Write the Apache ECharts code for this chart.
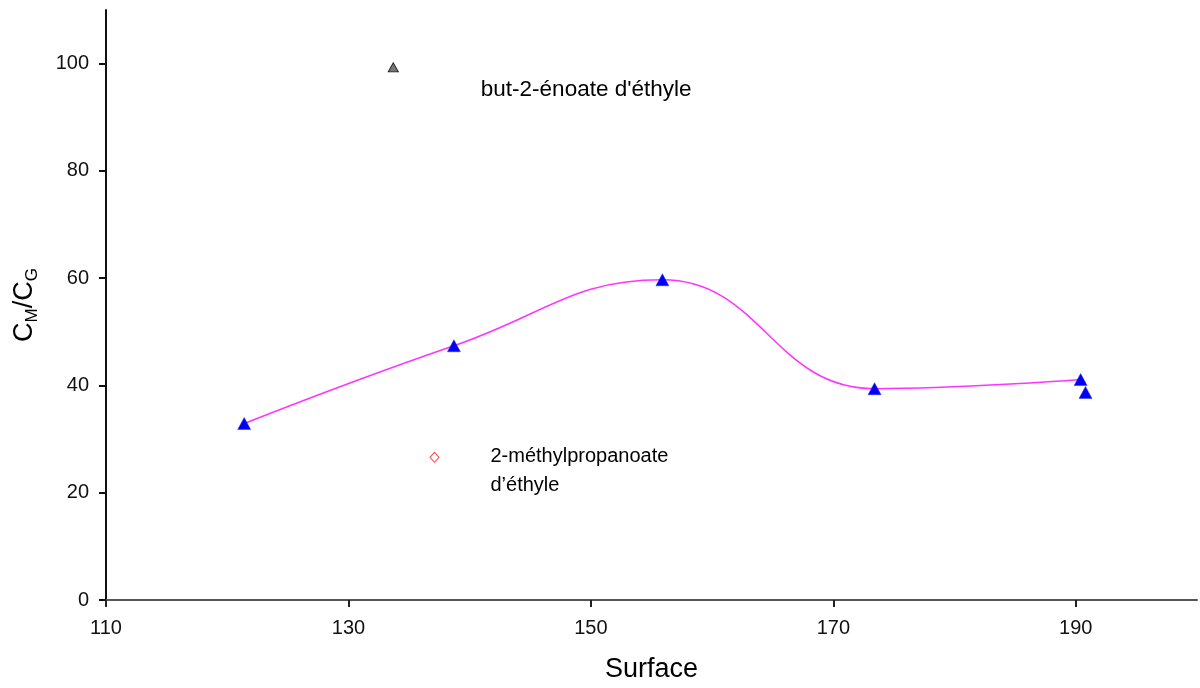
<!DOCTYPE html>
<html>
<head>
<meta charset="utf-8">
<script src="https://cdn.jsdelivr.net/npm/echarts@6/dist/echarts.min.js"></script>
<style>html,body{margin:0;padding:0;background:#fff}#c{width:1200px;height:688px}</style>
</head>
<body>
<div id="c"></div>
<script>
// Data
const surfaceBlue = [121.4, 138.7, 155.9, 173.4, 190.4, 190.8];
const ratioBlue   = [32.9, 47.4, 59.7, 39.4, 41.1, 38.7];
const curveSurface = [121.4, 138.7, 155.9, 173.4, 190.4];
const curveRatio   = [32.9, 47.4, 59.7, 39.4, 41.1];
const butenoate = [[133.7, 99.3]];
const methylpropanoate = [[137.1, 26.6]];
const butenoateName = "but-2-énoate d'éthyle";
const methylName = "2-méthylpropanoate\nd’éthyle";
const xTicks = {min: 110, max: 200, interval: 20};
const yTicks = {min: 0, max: 110, interval: 20};

const chart = echarts.init(document.getElementById('c'));
const font = 'Liberation Sans, Arial, sans-serif';
chart.setOption({
  backgroundColor: '#fff',
  animation: false,
  grid: {left: 106, right: 3, top: 10, bottom: 87, containLabel: false},
  xAxis: {
    type: 'value', min: xTicks.min, max: xTicks.max, interval: xTicks.interval,
    name: 'Surface', nameLocation: 'middle', nameGap: 56,
    nameTextStyle: {fontSize: 27, color: '#000', fontFamily: font},
    axisLine: {show: true, onZero: false, lineStyle: {color: '#555', width: 2}},
    axisTick: {show: true, length: 7, lineStyle: {color: '#222', width: 2}},
    axisLabel: {fontSize: 20, color: '#111', margin: 18, fontFamily: font, showMaxLabel: false},
    splitLine: {show: false}
  },
  yAxis: {
    type: 'value', min: yTicks.min, max: yTicks.max, interval: yTicks.interval,
    name: '{c|C}{s|M}{c|/C}{s|G}', nameLocation: 'middle', nameGap: 68, nameRotate: 90,
    nameTextStyle: {
      fontFamily: font, color: '#000',
      rich: {
        c: {fontSize: 27, fontFamily: font, color: '#000', verticalAlign: 'bottom', lineHeight: 28},
        s: {fontSize: 17, fontFamily: font, color: '#000', verticalAlign: 'bottom', lineHeight: 22, padding: [0,0,-3,0]}
      }
    },
    axisLine: {show: true, onZero: false, lineStyle: {color: '#111', width: 2}},
    axisTick: {show: true, length: 7, lineStyle: {color: '#111', width: 2}},
    axisLabel: {fontSize: 20, color: '#111', margin: 17, fontFamily: font, showMaxLabel: false},
    splitLine: {show: false}
  },
  series: [
    {
      type: 'line', smooth: 0.45, showSymbol: false, symbol: 'none',
      data: curveSurface.map((x, i) => [x, curveRatio[i]]),
      lineStyle: {color: '#ff33ff', width: 1.5}, z: 2
    },
    {
      type: 'scatter', symbol: 'triangle', symbolSize: [13, 12],
      data: surfaceBlue.map((x, i) => [x, ratioBlue[i]]),
      itemStyle: {color: '#0000f0', borderColor: '#2233ff', borderWidth: 0.5, opacity: 1}, z: 3
    },
    {
      type: 'scatter', symbol: 'triangle', symbolSize: [10, 9],
      data: butenoate,
      itemStyle: {color: '#777', borderColor: '#222', borderWidth: 1, opacity: 1}, z: 3,
      label: {show: true, formatter: butenoateName, position: 'right', offset: [77, 22],
        fontSize: 22.5, color: '#000', fontFamily: font}
    },
    {
      type: 'scatter', symbol: 'diamond', symbolSize: [9, 10],
      data: methylpropanoate,
      itemStyle: {color: '#fff', borderColor: '#ff4444', borderWidth: 1, opacity: 1}, z: 3,
      label: {show: true, formatter: methylName, position: 'right', offset: [46, 14],
        fontSize: 20, color: '#000', fontFamily: font, lineHeight: 29, align: 'left'}
    }
  ]
});
</script>
</body>
</html>
